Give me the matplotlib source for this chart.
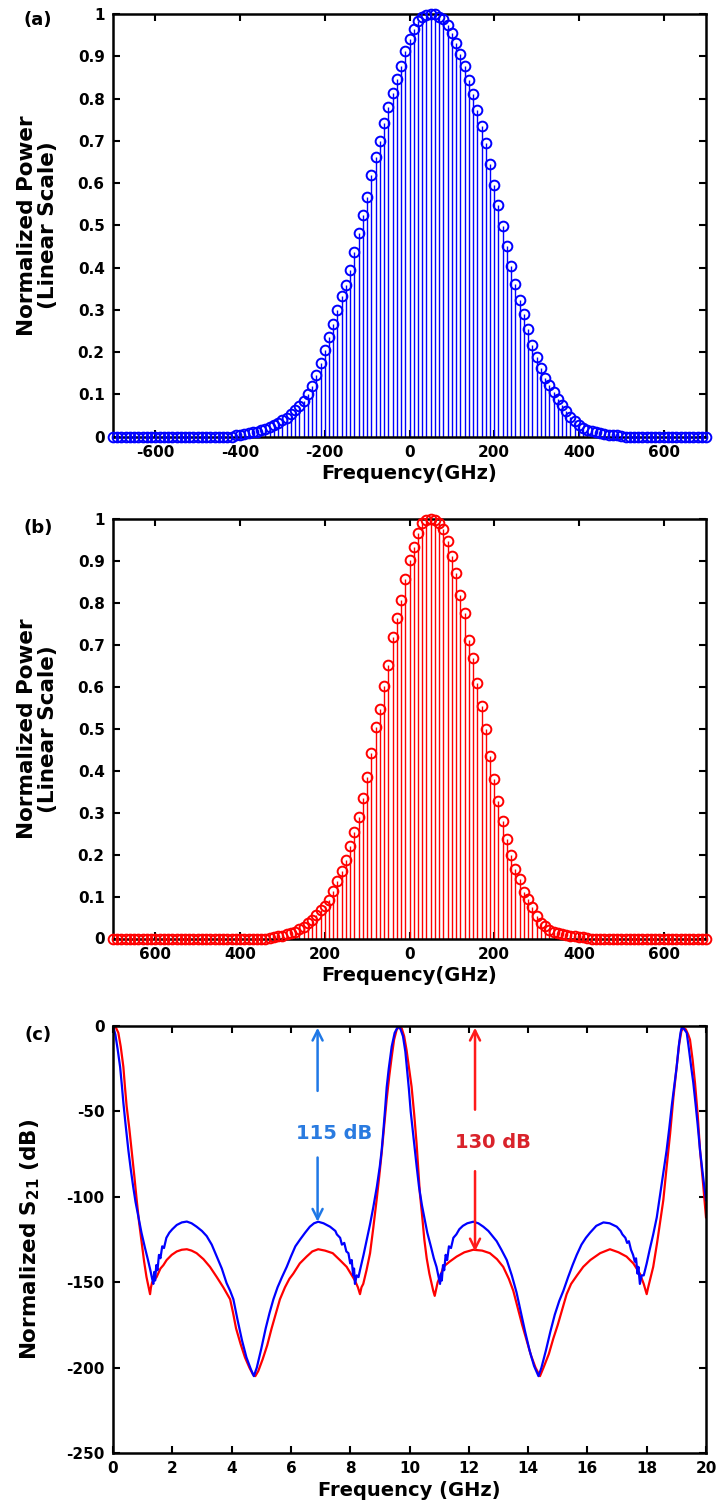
import numpy as np
import matplotlib.pyplot as plt

plt.rcParams['font.family'] = ['DejaVu Sans']
plt.rcParams['font.weight'] = 'bold'
plt.rcParams['axes.labelweight'] = 'bold'
plt.rcParams['axes.unicode_minus'] = False
plt.rcParams['mathtext.fontset'] = 'dejavusans'

# comb lines, one every 10 GHz
freq_ghz = np.arange(-700, 701, 10)

# (a) normalized comb power (-700 ... 700 GHz)
pow_a = [
    0, 0, 0, 0, 0, 0, 0, 0, 0, 0,
    0, 0, 0, 0, 0, 0, 0, 0, 0, 0,
    0, 0, 0, 0, 0, 0, 0, 0, 0,
    0.004, 0.005, 0.007, 0.008, 0.010, 0.012, 0.015, 0.018, 0.022, 0.027,
    0.033, 0.039, 0.045, 0.053, 0.063, 0.073, 0.085, 0.100, 0.120, 0.145,
    0.175, 0.205, 0.235, 0.267, 0.300, 0.334, 0.360, 0.395, 0.438, 0.482,
    0.524, 0.568, 0.620, 0.662, 0.700, 0.743, 0.780, 0.814, 0.846, 0.878,
    0.912, 0.940, 0.965, 0.983, 0.993, 0.998, 1.000, 0.999, 0.994, 0.987,
    0.974, 0.956, 0.932, 0.905, 0.876, 0.845, 0.810, 0.772, 0.735, 0.694,
    0.645, 0.596, 0.547, 0.498, 0.450, 0.405, 0.361, 0.324, 0.290, 0.255,
    0.218, 0.188, 0.162, 0.140, 0.122, 0.105, 0.090, 0.075, 0.060, 0.047,
    0.036, 0.027, 0.020, 0.016, 0.013, 0.011, 0.009, 0.007, 0.005, 0.004,
    0.003, 0.002,
    0, 0, 0, 0, 0, 0, 0, 0, 0, 0,
    0, 0, 0, 0, 0, 0, 0, 0, 0, 0,
]

# (b) normalized comb power after filtering (-700 ... 700 GHz)
pow_b = [
    0, 0, 0, 0, 0, 0, 0, 0, 0, 0,
    0, 0, 0, 0, 0, 0, 0, 0, 0, 0,
    0, 0, 0, 0, 0, 0, 0, 0, 0, 0,
    0, 0, 0, 0, 0, 0, 0,
    0.002, 0.003, 0.005, 0.007, 0.010, 0.012, 0.016, 0.022, 0.028, 0.036,
    0.045, 0.056, 0.068, 0.078, 0.092, 0.114, 0.138, 0.161, 0.188, 0.220,
    0.255, 0.290, 0.335, 0.385, 0.443, 0.505, 0.548, 0.603, 0.652, 0.718,
    0.763, 0.806, 0.858, 0.902, 0.934, 0.967, 0.990, 0.998, 1.000, 0.998,
    0.990, 0.975, 0.947, 0.911, 0.872, 0.820, 0.775, 0.712, 0.668, 0.610,
    0.555, 0.500, 0.435, 0.380, 0.328, 0.280, 0.238, 0.199, 0.165, 0.142,
    0.110, 0.094, 0.074, 0.054, 0.038, 0.029, 0.021, 0.016, 0.014, 0.011,
    0.008, 0.007, 0.005, 0.004, 0.003, 0.002,
    0, 0, 0, 0, 0, 0, 0, 0, 0, 0,
    0, 0, 0, 0, 0, 0, 0, 0, 0, 0,
    0, 0, 0, 0, 0, 0, 0, 0,
]

# (c) filter response, blue trace (GHz, dB)
f_blue = [
    0.00, 0.08, 0.16, 0.24, 0.30, 0.35, 0.42, 0.52, 0.60, 0.68,
    0.76, 0.85, 0.96, 1.08, 1.18, 1.26, 1.32, 1.36, 1.39, 1.42,
    1.46, 1.50, 1.55, 1.60, 1.66, 1.72, 1.80, 1.90, 2.00, 2.15,
    2.32, 2.49, 2.65, 2.82, 3.00, 3.16, 3.33, 3.50, 3.67, 3.83,
    3.95, 4.06, 4.20, 4.35, 4.50, 4.65, 4.75, 4.85, 5.00, 5.15,
    5.28, 5.41, 5.55, 5.70, 5.86, 6.00, 6.15, 6.31, 6.48, 6.64,
    6.78, 6.92, 7.10, 7.32, 7.50, 7.55, 7.66, 7.72, 7.80, 7.87,
    7.94, 8.00, 8.05, 8.10, 8.13, 8.16, 8.22, 8.28, 8.33, 8.45,
    8.56, 8.67, 8.78, 8.90, 9.00, 9.06, 9.12, 9.18, 9.23, 9.30,
    9.40, 9.50, 9.62, 9.70, 9.78, 9.86, 9.92, 9.98, 10.04, 10.14,
    10.24, 10.32, 10.42, 10.50, 10.60, 10.72, 10.82, 10.91, 10.97, 11.03,
    11.06, 11.09, 11.13, 11.17, 11.22, 11.27, 11.33, 11.40, 11.48, 11.58,
    11.68, 11.80, 11.95, 12.15, 12.32, 12.49, 12.66, 12.80, 12.94, 13.10,
    13.28, 13.45, 13.61, 13.75, 13.90, 14.05, 14.20, 14.35, 14.45, 14.60,
    14.75, 14.90, 15.05, 15.19, 15.35, 15.50, 15.64, 15.80, 15.95, 16.09,
    16.30, 16.54, 16.75, 16.99, 17.12, 17.18, 17.28, 17.34, 17.40, 17.47,
    17.54, 17.60, 17.64, 17.69, 17.72, 17.77, 17.83, 17.90, 18.00, 18.10,
    18.22, 18.34, 18.45, 18.56, 18.67, 18.76, 18.85, 18.93, 19.01, 19.08,
    19.14, 19.18, 19.25, 19.35, 19.42, 19.50, 19.57, 19.65, 19.72, 19.80,
    19.90, 20.00]
s21_blue = [
    0, -5, -14, -24, -35, -45, -57, -73, -84, -94,
    -103, -111, -121, -130, -137, -143, -148, -151, -144, -149,
    -140, -143, -134, -136, -129, -130, -124, -121, -119, -116.5,
    -115, -114.5, -115.5, -117.5, -120, -123, -128, -135, -142, -150.5,
    -155, -160, -172, -184, -194, -201, -205, -200, -189, -177,
    -168, -160, -153, -147, -141, -135, -129, -125, -121, -117.5,
    -115.5, -114.6, -115.5, -117.5, -120, -122, -124, -128, -127, -132,
    -133, -139, -137, -146, -142, -151, -146, -147, -143, -134,
    -125, -116, -106, -94, -82, -73, -61, -48, -36, -25,
    -12, -4, 0, -2, -6, -15, -26, -37, -50, -66,
    -82, -94, -105, -112, -121, -129, -136, -141, -146, -151,
    -145, -149, -140, -143, -134, -137, -129, -130, -124, -122,
    -119, -117, -115.5, -114.6, -115.5, -117.5, -120, -123, -126, -131,
    -137, -146, -156, -167, -179, -190, -199, -205, -200, -190,
    -179, -169, -161, -155, -147, -140, -134, -128, -124, -121,
    -117, -115, -115.5, -117.5, -120, -122, -124, -127, -126, -131,
    -134, -138, -136, -145, -141, -151, -146, -146, -139, -131,
    -122, -112, -99, -86, -73, -60, -46, -35, -24, -12,
    -4, -1, -1.5, -4, -13, -24, -33, -46, -58, -73,
    -88, -102]

# (c) filter response, red trace (GHz, dB)
f_red = [
    0.00, 0.10, 0.18, 0.26, 0.35, 0.40, 0.46, 0.55, 0.63, 0.72,
    0.80, 0.88, 0.97, 1.05, 1.13, 1.19, 1.25, 1.28, 1.32, 1.38,
    1.47, 1.60, 1.70, 1.81, 1.98, 2.15, 2.32, 2.49, 2.65, 2.82,
    3.05, 3.27, 3.50, 3.72, 3.85, 3.95, 4.05, 4.15, 4.30, 4.45,
    4.60, 4.72, 4.80, 4.90, 5.05, 5.20, 5.35, 5.50, 5.63, 5.80,
    5.95, 6.08, 6.30, 6.53, 6.72, 6.92, 7.15, 7.41, 7.65, 7.88,
    8.02, 8.16, 8.26, 8.33, 8.38, 8.44, 8.55, 8.67, 8.78, 8.89,
    8.98, 9.06, 9.15, 9.23, 9.32, 9.40, 9.48, 9.57, 9.66, 9.74,
    9.82, 9.90, 9.98, 10.07, 10.16, 10.24, 10.30, 10.35, 10.42, 10.50,
    10.58, 10.67, 10.75, 10.80, 10.85, 10.90, 10.95, 11.05, 11.14, 11.35,
    11.59, 11.85, 12.15, 12.45, 12.71, 12.95, 13.16, 13.35, 13.50, 13.65,
    13.80, 13.95, 14.10, 14.25, 14.40, 14.52, 14.70, 14.85, 15.00, 15.15,
    15.30, 15.45, 15.65, 15.86, 16.10, 16.43, 16.76, 17.05, 17.32, 17.55,
    17.77, 17.90, 18.00, 18.05, 18.12, 18.22, 18.35, 18.45, 18.56, 18.67,
    18.79, 18.90, 19.01, 19.10, 19.17, 19.24, 19.32, 19.40, 19.46, 19.55,
    19.63, 19.72, 19.80, 19.90, 20.00]
s21_red = [
    0, -1, -4, -12, -24, -35, -47, -60, -73, -88,
    -102, -115, -127, -138, -147, -152, -157, -153, -150, -149,
    -147, -142, -140, -137, -134, -132, -131, -130.7, -131.5, -133,
    -136.5, -141, -147, -153, -157, -160, -168, -177, -186, -194,
    -200, -204, -205, -202, -195, -187, -177, -168, -160, -153,
    -148, -145, -139, -135, -132, -130.7, -131.5, -133, -137, -141,
    -145, -149, -153, -157, -153, -151, -143, -133, -118, -102,
    -88, -74.5, -58, -43, -29, -18, -8, -2, -0.5, -1.5,
    -6, -14, -24, -35.5, -52, -69, -85, -98, -110, -125,
    -136, -145, -151, -155, -158, -154, -150, -146, -141, -138,
    -135, -132.5, -131, -131.5, -133, -136.5, -141, -148, -155, -165,
    -175, -184, -193, -200, -205, -200, -192, -183, -175, -166,
    -157, -151, -146, -141, -137, -133, -130.7, -132.5, -135, -139,
    -145, -151, -157, -153, -148, -141, -127, -115, -102, -83,
    -63, -42, -24, -10, -3, -1, -2, -5, -8, -20,
    -33.5, -52, -73, -92, -112]

W, H = 721, 1504


def box(left, top, right, bottom):
    return [left / W, 1 - bottom / H, (right - left) / W, (bottom - top) / H]


def style(ax):
    for sp in ax.spines.values():
        sp.set_linewidth(1.8)
    ax.tick_params(direction='in', top=True, right=True, length=5, width=1.5,
                   labelsize=11, pad=6)


def comb(ax, vals, color):
    ml, sl, bl = ax.stem(freq_ghz, vals, linefmt='-', markerfmt='o', basefmt=' ')
    sl.set_color(color)
    sl.set_linewidth(1.0)
    ml.set_color(color)
    ml.set_markerfacecolor('none')
    ml.set_markersize(7)
    ml.set_markeredgewidth(1.4)
    ml.set_clip_on(False)
    ml.set_zorder(3)
    ax.set_xlim(-700, 700)
    ax.set_ylim(0, 1)
    ax.set_yticks(np.arange(0, 1.01, 0.1))
    ax.set_yticklabels(['0', '0.1', '0.2', '0.3', '0.4', '0.5', '0.6', '0.7', '0.8', '0.9', '1'])
    ax.set_xlabel('Frequency(GHz)', fontsize=14, labelpad=3)
    ax.set_ylabel('Normalized Power\n(Linear Scale)', fontsize=15.5, linespacing=1.05)
    ax.yaxis.set_label_coords(-0.093, 0.5)
    style(ax)


fig = plt.figure(figsize=(W / 100, H / 100), dpi=100)

ax1 = fig.add_axes(box(113, 14, 706, 436.7))
comb(ax1, pow_a, '#0000ff')
ax1.set_xticks([-600, -400, -200, 0, 200, 400, 600])

ax2 = fig.add_axes(box(113, 519, 706, 938.5))
comb(ax2, pow_b, '#ff0000')
ax2.set_xticks([-600, -400, -200, 0, 200, 400, 600])
ax2.set_xticklabels(['600', '400', '200', '0', '200', '400', '600'])

ax3 = fig.add_axes(box(113, 1026, 706, 1453))
ax3.plot(f_red, s21_red, color='#ff0000', lw=1.6)
ax3.plot(f_blue, s21_blue, color='#0000ff', lw=1.6)
ax3.set_xlim(0, 20)
ax3.set_ylim(-250, 0)
ax3.set_xticks(np.arange(0, 21, 2))
ax3.set_yticks([-250, -200, -150, -100, -50, 0])
ax3.set_xlabel('Frequency (GHz)', fontsize=14, labelpad=3)
ax3.set_ylabel(r'Normalized S$_{\mathbf{21}}$ (dB)', fontsize=15.5)
ax3.yaxis.set_label_coords(-0.12, 0.5)
style(ax3)

c_b = '#1f78e6'
c_r = '#ff1a1a'
arrow = dict(arrowstyle='->', lw=1.8, mutation_scale=18, shrinkA=0, shrinkB=0)
ax3.annotate('', xy=(6.9, -1), xytext=(6.9, -38), arrowprops=dict(arrow, color=c_b))
ax3.annotate('', xy=(6.9, -114.6), xytext=(6.9, -77), arrowprops=dict(arrow, color=c_b))
ax3.text(7.45, -62.7, '115 dB', color='#2a7be0', fontsize=14, ha='center', va='center')
ax3.annotate('', xy=(12.21, -1), xytext=(12.21, -49), arrowprops=dict(arrow, color=c_r))
ax3.annotate('', xy=(12.21, -132), xytext=(12.21, -85), arrowprops=dict(arrow, color=c_r))
ax3.text(12.83, -68.3, '130 dB', color='#d9232b', fontsize=14, ha='center', va='center')

for lab, y in [('(a)', 20), ('(b)', 528), ('(c)', 1035)]:
    fig.text(38 / W, 1 - y / H, lab, fontsize=13, ha='center', va='center')

fig.savefig('out.png', dpi=100)
